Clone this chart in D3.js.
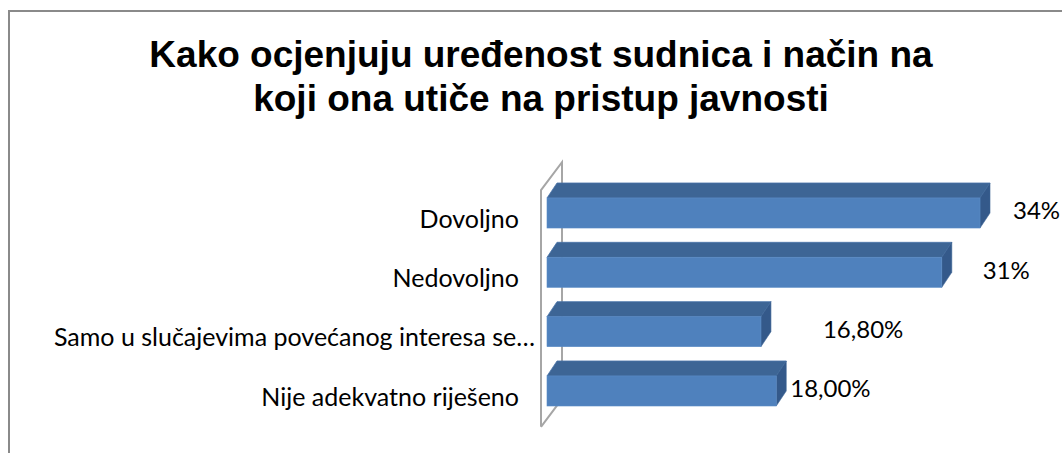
<!DOCTYPE html>
<html>
<head>
<meta charset="utf-8">
<script src="https://cdn.jsdelivr.net/npm/d3@7"></script>
<style>
  html, body { margin: 0; padding: 0; background: #fff; overflow: hidden; }
  svg { display: block; }
</style>
</head>
<body>
<svg id="chart" width="1062" height="453"></svg>
<script>
const titleLines = ["Kako ocjenjuju uređenost sudnica i način na", "koji ona utiče na pristup javnosti"];
const categories = ["Dovoljno", "Nedovoljno", "Samo u slučajevima povećanog interesa se…", "Nije adekvatno riješeno"];
const values = [34, 31, 16.8, 18];
const valueLabels = ["34%", "31%", "16,80%", "18,00%"];
// manual label nudges (layout, as placed in the original)
const labelShift = [33, 41, 62, 14];
const catShift = [0, 0, 16, 0];

const svg = d3.select("#chart");

// outer chart border
svg.append("rect").attr("x", 9).attr("y", 11).attr("width", 1100).attr("height", 500)
  .attr("fill", "#fff").attr("stroke", "#8a8a8a").attr("stroke-width", 2);

// title
const title = svg.append("text").attr("text-anchor", "middle")
  .style("font-family", "'Liberation Sans', Arial, sans-serif")
  .style("font-weight", "bold").style("font-size", "37px").attr("fill", "#000");
titleLines.forEach((t, i) => {
  title.append("tspan").attr("x", 541).attr("y", 67 + i * 44).text(t);
});

const x = d3.scaleLinear().domain([0, 34]).range([547, 980]);
const y = d3.scaleBand().domain(categories).range([180.2, 423.8]).paddingInner(0.494).paddingOuter(0.3);

const ddx = 10, ddy = -15;     // bar depth
const wdx = 21, wdy = -28;     // wall depth

// wall
const wx = x(0) - 6;
const wTop = y.range()[0] + 10, wBot = y.range()[1] + 3;
const wall = svg.append("g").attr("fill", "none").attr("stroke", "#a6a6a6").attr("stroke-width", 2);
wall.append("path").attr("d",
  `M${wx},${wBot} L${wx},${wTop} L${wx + wdx},${wTop + wdy} L${wx + wdx},${wBot + wdy} L${wx},${wBot}`);

// bars
const g = svg.append("g");
categories.forEach((c, i) => {
  const x0 = x(0), x1 = x(values[i]);
  const yT = y(c), yB = y(c) + y.bandwidth();
  g.append("polygon").attr("points",
    [[x0, yT], [x0 + ddx, yT + ddy], [x1 + ddx, yT + ddy], [x1, yT]].map(p => p.join(",")).join(" "))
    .attr("fill", "#3d6595").attr("stroke", "#4a74a8").attr("stroke-width", 0.8);
  g.append("polygon").attr("points",
    [[x1, yT], [x1 + ddx, yT + ddy], [x1 + ddx, yB + ddy], [x1, yB]].map(p => p.join(",")).join(" "))
    .attr("fill", "#34598a").attr("stroke", "#3d6595").attr("stroke-width", 0.6);
  g.append("rect").attr("x", x0).attr("y", yT).attr("width", x1 - x0).attr("height", yB - yT)
    .attr("fill", "#4f81bd").attr("stroke", "#5b8cc6").attr("stroke-width", 0.6);
});

// category labels
svg.append("g").selectAll("text").data(categories).join("text")
  .attr("x", (d, i) => 519 + catShift[i]).attr("y", d => y(d) + y.bandwidth() / 2 + 6)
  .attr("dy", "0.35em").attr("text-anchor", "end")
  .style("font-family", "Lato, 'Open Sans', sans-serif").style("font-size", "25px")
  .attr("fill", "#000").text(d => d);

// value labels
svg.append("g").selectAll("text").data(categories).join("text")
  .attr("x", (d, i) => x(values[i]) + labelShift[i])
  .attr("y", d => y(d) + y.bandwidth() / 2 - 2)
  .attr("dy", "0.35em")
  .style("font-family", "Lato, 'Open Sans', sans-serif").style("font-size", "24px")
  .attr("fill", "#000").text((d, i) => valueLabels[i]);
</script>
</body>
</html>
